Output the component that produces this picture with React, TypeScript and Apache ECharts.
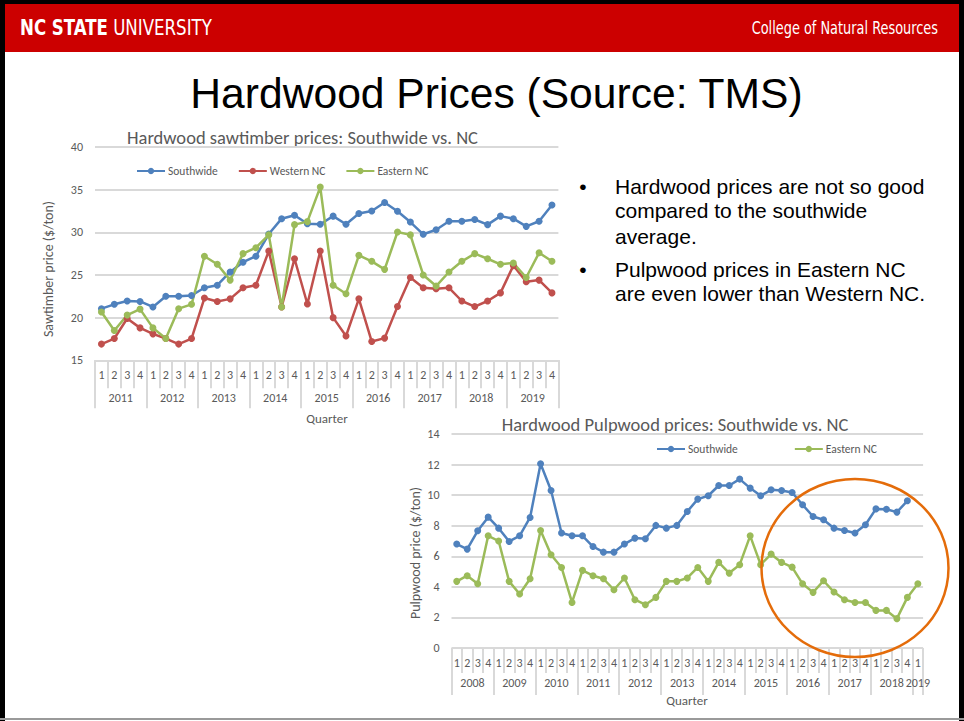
import React, { useEffect, useRef } from 'react';
import * as echarts from 'echarts';

// ---------- Data ----------
const sawYears = ['2011', '2012', '2013', '2014', '2015', '2016', '2017', '2018', '2019'];
const sawYearQuarterCounts = [4, 4, 4, 4, 4, 4, 4, 4, 4];
const quarterNames = ['1', '2', '3', '4'];

const sawSouthwide = [
  21.05, 21.56, 21.95, 21.9, 21.25, 22.5, 22.5, 22.6, 23.5, 23.8, 25.35, 26.5,
  27.2, 29.8, 31.6, 32.0, 31.0, 30.94, 31.9, 30.94, 32.2, 32.5, 33.5, 32.46,
  31.2, 29.77, 30.3, 31.3, 31.3, 31.5, 30.9, 31.9, 31.6, 30.7, 31.3, 33.2,
];
const sawWestern = [
  16.9, 17.55, 19.9, 18.8, 18.1, 17.55, 16.9, 17.55, 22.3, 21.9, 22.2, 23.5,
  23.8, 27.8, 21.25, 26.9, 21.6, 27.8, 20.0, 17.85, 22.2, 17.2, 17.6, 21.3,
  24.7, 23.5, 23.4, 23.5, 21.95, 21.3, 21.95, 22.9, 26.1, 24.2, 24.4, 22.9,
];
const sawEastern = [
  20.66, 18.5, 20.3, 21.0, 18.8, 17.55, 21.05, 21.56, 27.2, 26.25, 24.4, 27.5,
  28.2, 29.7, 21.25, 30.9, 31.25, 35.3, 23.8, 22.8, 27.3, 26.6, 25.66, 30.04,
  29.7, 25.0, 23.7, 25.35, 26.6, 27.5, 26.9, 26.25, 26.4, 24.7, 27.6, 26.6,
];

const pulpYears = ['2008', '2009', '2010', '2011', '2012', '2013', '2014', '2015', '2016', '2017', '2018', '2019'];
const pulpYearQuarterCounts = [4, 4, 4, 4, 4, 4, 4, 4, 4, 4, 4, 1];

const pulpSouthwide = [
  6.8, 6.47, 7.67, 8.56, 7.84, 6.97, 7.34, 8.54, 12.05, 10.3, 7.52, 7.34,
  7.34, 6.64, 6.27, 6.27, 6.8, 7.19, 7.15, 8.02, 7.84, 8.02, 8.93, 9.74,
  9.96, 10.63, 10.63, 11.05, 10.46, 9.96, 10.35, 10.3, 10.17, 9.37, 8.6, 8.39,
  7.84, 7.69, 7.52, 8.06, 9.1, 9.08, 8.89, 9.63,
];
const pulpEastern = [
  4.36, 4.73, 4.2, 7.34, 7.0, 4.36, 3.53, 4.53, 7.69, 6.1, 5.27, 2.98,
  5.08, 4.73, 4.53, 3.81, 4.58, 3.16, 2.83, 3.31, 4.36, 4.36, 4.58, 5.27,
  4.36, 5.6, 4.9, 5.45, 7.34, 5.45, 6.14, 5.6, 5.29, 4.2, 3.64, 4.4,
  3.66, 3.16, 2.98, 2.98, 2.46, 2.46, 1.92, 3.31, 4.2,
];

const sawYAxis = { min: 15, max: 40, interval: 5 };
const pulpYAxis = { min: 0, max: 14, interval: 2 };

const slideTitle = 'Hardwood Prices (Source: TMS)';
const sawTitle = 'Hardwood sawtimber prices: Southwide vs. NC';
const pulpTitle = 'Hardwood Pulpwood prices: Southwide vs. NC';
const sawYName = 'Sawtimber price ($/ton)';
const pulpYName = 'Pulpwood price ($/ton)';
const xName = 'Quarter';
const bullets = [
  ['Hardwood prices are not so good', 'compared to the southwide', 'average.'],
  ['Pulpwood prices in Eastern NC', 'are even lower than Western NC.'],
];

// ---------- Helpers ----------
function quarterLabels(counts: number[]) {
  const out: string[] = [];
  counts.forEach((c) => {
    for (let i = 0; i < c; i++) out.push(quarterNames[i]);
  });
  return out;
}
function yearSlots(years: string[], counts: number[]) {
  const n = counts.reduce((a, b) => a + b, 0);
  const labels: string[] = new Array(2 * n + 1).fill('');
  const ticks = new Set<number>();
  let q = 0;
  years.forEach((y, i) => {
    ticks.add(2 * q);
    labels[2 * q + counts[i]] = y;
    q += counts[i];
    ticks.add(2 * q);
  });
  return { labels, ticks };
}

const FONT = 'Carlito, Calibri, Lato, "Open Sans", sans-serif';
const NARROW = '"Liberation Sans Narrow", "DejaVu Sans Condensed", sans-serif';
const GREY = '#595959';
const GRID = '#d9d9d9';
const BLUE = '#4F81BD';
const RED = '#C0504D';
const GREEN = '#9BBB59';

function buildOption() {
  const sawQ = quarterLabels(sawYearQuarterCounts);
  const pulpQ = quarterLabels(pulpYearQuarterCounts);
  const sawY = yearSlots(sawYears, sawYearQuarterCounts);
  const pulpY = yearSlots(pulpYears, pulpYearQuarterCounts);

  const qAxis = (grid: number, labels: string[], tickLen: number, margin: number) => ({
    type: 'category',
    gridIndex: grid,
    position: 'bottom',
    offset: 0,
    boundaryGap: true,
    data: labels.map((_, i) => 'q' + i),
    axisLine: { show: false },
    axisTick: { show: true, interval: 0, length: tickLen, lineStyle: { color: GRID, width: 2 } },
    axisLabel: {
      interval: 0,
      margin,
      fontSize: 12,
      color: GREY,
      fontFamily: FONT,
      formatter: (_v: string, i: number) => labels[i],
    },
    splitLine: { show: false },
  });
  const yrAxis = (grid: number, ys: { labels: string[]; ticks: Set<number> }, tickLen: number, margin: number) => ({
    type: 'category',
    gridIndex: grid,
    position: 'bottom',
    offset: 0,
    boundaryGap: false,
    data: ys.labels.map((_, i) => 'y' + i),
    axisLine: { show: false },
    axisTick: {
      show: true,
      interval: (i: number) => ys.ticks.has(i),
      length: tickLen,
      lineStyle: { color: GRID, width: 2 },
    },
    axisLabel: {
      interval: (i: number) => ys.labels[i] !== '',
      margin,
      fontSize: 12,
      color: GREY,
      fontFamily: FONT,
      formatter: (_v: string, i: number) => ys.labels[i],
    },
    splitLine: { show: false },
  });
  const valAxis = (grid: number, cfg: { min: number; max: number; interval: number }) => ({
    type: 'value',
    gridIndex: grid,
    min: cfg.min,
    max: cfg.max,
    interval: cfg.interval,
    axisLine: { show: false },
    axisTick: { show: false },
    axisLabel: { fontSize: 12, color: GREY, margin: 12, fontFamily: FONT },
    splitLine: { show: true, lineStyle: { color: GRID, width: 2 } },
  });
  const lineSeries = (name: string, data: number[], color: string, xi: number, yi: number) => ({
    name,
    type: 'line',
    xAxisIndex: xi,
    yAxisIndex: yi,
    data,
    symbol: 'circle',
    symbolSize: 7,
    showSymbol: true,
    lineStyle: { color, width: 2.5 },
    itemStyle: { color },
    z: 3,
  });

  const text = (t: string, x: number, y: number, extra: any = {}, el: any = {}) => ({
    type: 'text',
    x,
    y,
    silent: true,
    ...el,
    style: {
      text: t,
      fontSize: 21,
      fontFamily: '"Liberation Sans", Arial, sans-serif',
      fill: '#000',
      align: 'left',
      verticalAlign: 'middle',
      ...extra,
    },
  });

  const bulletLineYs = [[186, 210, 236], [269, 293]];
  const bulletGraphics: any[] = [];
  bullets.forEach((lines, bi) => {
    bulletGraphics.push(text('•', 583, bulletLineYs[bi][0], { align: 'center' }));
    lines.forEach((l, li) => bulletGraphics.push(text(l, 615, bulletLineYs[bi][li])));
  });

  const legendCommon = {
    padding: 0,
    itemWidth: 28,
    itemHeight: 8,
    selectedMode: false,
    textStyle: { fontSize: 11.5, color: GREY, fontFamily: FONT, padding: [0, 0, 0, -2] },
  };

  return {
    animation: false,
    backgroundColor: '#ffffff',
    textStyle: { fontFamily: FONT },
    grid: [
      { left: 95, top: 147, width: 463.4, height: 213.3 },
      { left: 451.5, top: 434, width: 471.6, height: 214 },
    ],
    xAxis: [
      qAxis(0, sawQ, 28, 9),
      yrAxis(0, sawY, 48, 32),
      qAxis(1, pulpQ, 25, 9),
      yrAxis(1, pulpY, 47, 29),
    ],
    yAxis: [valAxis(0, sawYAxis), valAxis(1, pulpYAxis)],
    legend: [
      { ...legendCommon, left: 136, top: 165, itemGap: 20, data: ['Southwide', 'Western NC', 'Eastern NC'] },
      { ...legendCommon, left: 656, top: 443, itemGap: 56, data: ['Southwide', 'Eastern NC'] },
    ],
    series: [
      lineSeries('Southwide', sawSouthwide, BLUE, 0, 0),
      lineSeries('Western NC', sawWestern, RED, 0, 0),
      lineSeries('Eastern NC', sawEastern, GREEN, 0, 0),
      lineSeries('Southwide', pulpSouthwide, BLUE, 2, 1),
      lineSeries('Eastern NC', pulpEastern, GREEN, 2, 1),
    ],
    graphic: [
      // slide frame
      { type: 'rect', silent: true, shape: { x: 0, y: 0, width: 964, height: 4 }, style: { fill: '#000' } },
      { type: 'rect', silent: true, shape: { x: 0, y: 0, width: 5, height: 721 }, style: { fill: '#000' } },
      { type: 'rect', silent: true, shape: { x: 959, y: 0, width: 5, height: 721 }, style: { fill: '#000' } },
      { type: 'rect', silent: true, shape: { x: 0, y: 718, width: 964, height: 2 }, style: { fill: '#9a9a9a' } },
      // header bar
      { type: 'rect', silent: true, shape: { x: 5, y: 4, width: 954, height: 48 }, style: { fill: '#CC0000' } },
      {
        type: 'text',
        x: 20,
        y: 28,
        scaleX: 0.88,
        silent: true,
        style: {
          text: '{b|NC STATE} {n|UNIVERSITY}',
          verticalAlign: 'middle',
          rich: {
            b: { fontSize: 21, fontWeight: 'bold', fill: '#fff', fontFamily: NARROW },
            n: { fontSize: 21, fill: '#fff', fontFamily: NARROW },
          },
          fontSize: 21,
          fill: '#fff',
          fontFamily: NARROW,
        },
      },
      text('College of Natural Resources', 938, 28, { align: 'right', fontSize: 17.5, fill: '#fff', fontFamily: NARROW }, { scaleX: 0.82 }),
      // slide title
      text(slideTitle, 496.5, 93, { align: 'center', fontSize: 42.6 }),
      ...bulletGraphics,
      // chart titles and axis names
      text(sawTitle, 302.5, 137, { align: 'center', fontSize: 18.5, fill: GREY, fontFamily: FONT }),
      text(pulpTitle, 675, 424, { align: 'center', fontSize: 18.5, fill: GREY, fontFamily: FONT }),
      text(xName, 327, 418, { align: 'center', fontSize: 13, fill: GREY, fontFamily: FONT }),
      text(xName, 687, 700, { align: 'center', fontSize: 13, fill: GREY, fontFamily: FONT }),
      text(sawYName, 48, 269, { align: 'center', fontSize: 14, fill: GREY, fontFamily: FONT }, { rotation: Math.PI / 2 }),
      text(pulpYName, 415, 553, { align: 'center', fontSize: 14, fill: GREY, fontFamily: FONT }, { rotation: Math.PI / 2 }),
      // highlight ellipse
      {
        type: 'ellipse',
        silent: true,
        z: 100,
        shape: { cx: 855, cy: 568, rx: 93.5, ry: 89 },
        style: { fill: 'none', stroke: '#E46C0A', lineWidth: 2.5 },
      },
    ],
  };
}

export default function App() {
  const ref = useRef<HTMLDivElement>(null);
  useEffect(() => {
    document.body.style.margin = '0';
    const chart = echarts.init(ref.current!, undefined, { renderer: 'svg' });
    chart.setOption(buildOption() as any);
    return () => chart.dispose();
  }, []);
  return <div ref={ref} style={{ width: 964, height: 721 }} />;
}
